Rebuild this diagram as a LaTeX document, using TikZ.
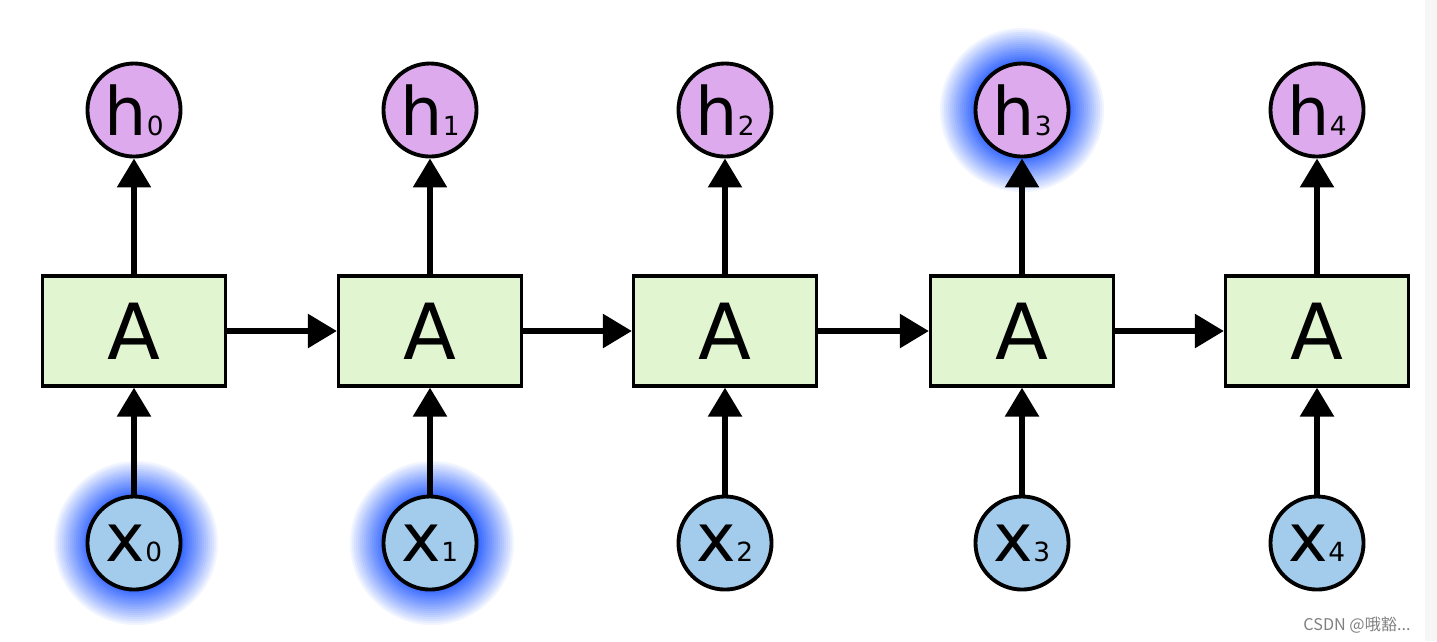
\documentclass[tikz,border=0pt]{standalone}
\usepackage{fontspec}
\setmainfont{DejaVu Sans}
\newfontfamily\cjk{Noto Sans CJK SC}
\usetikzlibrary{arrows.meta}
\definecolor{cellgreen}{RGB}{224,245,208}
\definecolor{hiddenpink}{RGB}{221,170,238}
\definecolor{inputblue}{RGB}{163,203,235}
\definecolor{glowblue}{RGB}{55,105,255}
\definecolor{stripgrey}{RGB}{246,246,246}
\tikzset{
x=0.01cm, y=-0.01cm, % one unit is one pixel of the reference
flow/.style={-{Triangle[length=0.29cm,width=0.33cm]}, line width=1.65pt}, % the thick arrows
cell/.style={draw, line width=0.9pt, fill=cellgreen, minimum width=1.83cm, minimum height=1.1cm, font=\fontsize{22}{22}\selectfont}, % the A boxes
state/.style={draw, circle, line width=1.1pt, minimum size=0.93cm, inner sep=0pt, font=\fontsize{19}{19}\selectfont}, % h and x circles
hidden/.style={state, fill=hiddenpink},
input/.style={state, fill=inputblue},
}
\newcommand{\sub}[1]{{\fontsize{7.5}{7.5}\selectfont #1}}
% blue halo under a highlighted circle, from white outside to blue at the rim
\newcommand{\halo}[1]{
  \foreach \i in {0,...,18} {
    \pgfmathtruncatemacro{\pct}{100*(\i/18)^0.9}
    \fill[glowblue!\pct!white] #1 circle ({84-2*\i});
  }
}

\begin{document}
\begin{tikzpicture}
        \useasboundingbox (0, 0) rectangle (1437, 641);
        \fill[stripgrey] (1425, 0) rectangle (1437, 641);

        % halos go under the circles
        \halo{(136, 543)}
        \halo{(432, 543)}
        \halo{(1022, 110)}

        \node[cell] (cell-0) at (134, 331) {A};
        \node[cell] (cell-1) at (430, 331) {A};
        \node[cell] (cell-2) at (725, 331) {A};
        \node[cell] (cell-3) at (1022, 331) {A};
        \node[cell] (cell-4) at (1317, 331) {A};

        \node[hidden] (hidden-0) at (134, 110) {h\sub{0}};
        \node[hidden] (hidden-1) at (430, 110) {h\sub{1}};
        \node[hidden] (hidden-2) at (725, 110) {h\sub{2}};
        \node[hidden] (hidden-3) at (1022, 110) {h\sub{3}};
        \node[hidden] (hidden-4) at (1317, 110) {h\sub{4}};

        \node[input] (input-0) at (134, 543) {x\sub{0}};
        \node[input] (input-1) at (430, 543) {x\sub{1}};
        \node[input] (input-2) at (725, 543) {x\sub{2}};
        \node[input] (input-3) at (1022, 543) {x\sub{3}};
        \node[input] (input-4) at (1317, 543) {x\sub{4}};

        \draw[flow] (input-0) -- (cell-0);
        \draw[flow] (input-1) -- (cell-1);
        \draw[flow] (input-2) -- (cell-2);
        \draw[flow] (input-3) -- (cell-3);
        \draw[flow] (input-4) -- (cell-4);

        \draw[flow] (cell-0) -- (hidden-0);
        \draw[flow] (cell-1) -- (hidden-1);
        \draw[flow] (cell-2) -- (hidden-2);
        \draw[flow] (cell-3) -- (hidden-3);
        \draw[flow] (cell-4) -- (hidden-4);

        \draw[flow] (cell-0) -- (cell-1);
        \draw[flow] (cell-1) -- (cell-2);
        \draw[flow] (cell-2) -- (cell-3);
        \draw[flow] (cell-3) -- (cell-4);

        \node[anchor=east, text=gray, font=\cjk\fontsize{4.6}{5}\selectfont] (mark) at (1423, 625) {CSDN @哦豁...};
    \end{tikzpicture}
\end{document}
